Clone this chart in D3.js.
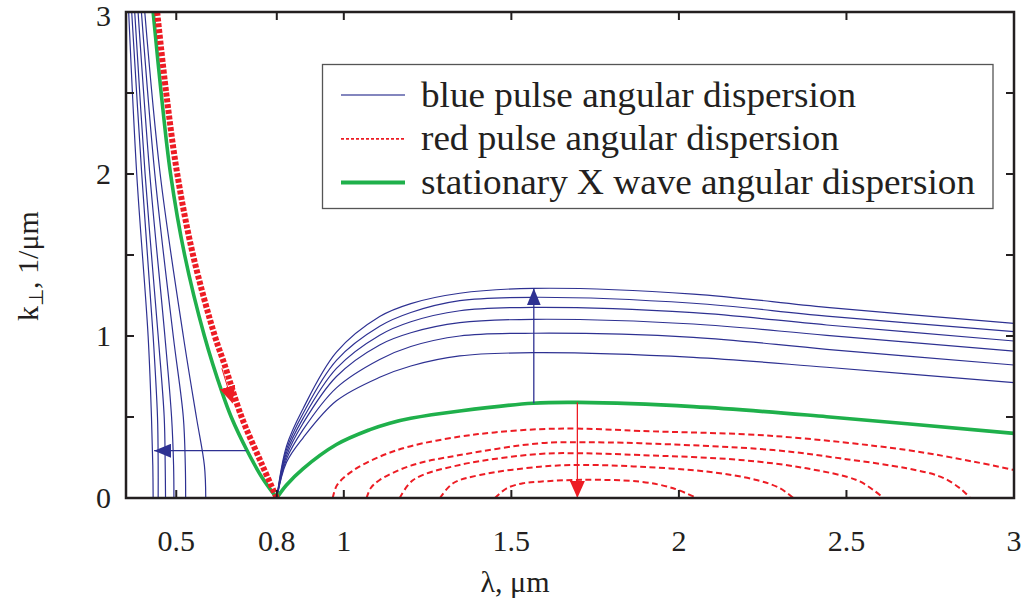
<!DOCTYPE html>
<html><head><meta charset="utf-8">
<script src="https://cdn.jsdelivr.net/npm/d3@7"></script>
<style>body{margin:0;background:#fff}svg{display:block}</style>
</head><body><svg id="c" width="1027" height="605"></svg>
<script>
// ---- data (λ in µm, k⊥ in 1/µm) ----
const xTickValues = [0.5, 0.8, 1, 1.5, 2, 2.5, 3];
const xTickLabels = ["0.5", "0.8", "1", "1.5", "2", "2.5", "3"];
const yTickValues = [0, 0.5, 1, 1.5, 2, 2.5, 3];
const yTickLabels = ["0", "", "1", "", "2", "", "3"];
const legendLabels = ["blue pulse angular dispersion", "red pulse angular dispersion", "stationary X wave angular dispersion"];

// blue pulse, short-wavelength branches
const blueLeft = [
  [[0.358,3],[0.382,2],[0.416,1],[0.426,0.5],[0.430,0.2],[0.431,0]],
  [[0.367,3],[0.397,2],[0.431,1],[0.444,0.5],[0.446,0.2],[0.446,0]],
  [[0.376,3],[0.407,2],[0.446,1],[0.464,0.5],[0.467,0.2],[0.468,0]],
  [[0.386,3],[0.421,2],[0.466,1],[0.486,0.5],[0.492,0.2],[0.493,0]],
  [[0.396,3],[0.436,2],[0.491,1],[0.521,0.5],[0.527,0.2],[0.528,0]],
  [[0.406,3],[0.452,2],[0.521,1],[0.560,0.5],[0.584,0.2],[0.588,0]]
];
// blue pulse, long-wavelength branches
const blueRightLambda = [0.8, 0.829, 0.878, 0.978, 1.107, 1.2, 1.346, 1.565, 2.043, 2.441, 3.0];
const blueRightK = [
  [0, 0.32, 0.55, 0.90, 1.12, 1.20, 1.264, 1.294, 1.259, 1.177, 1.078],
  [0, 0.30, 0.52, 0.85, 1.06, 1.145, 1.218, 1.239, 1.202, 1.123, 1.027],
  [0, 0.28, 0.49, 0.80, 1.005, 1.088, 1.156, 1.177, 1.144, 1.068, 0.969],
  [0, 0.26, 0.46, 0.75, 0.945, 1.02, 1.082, 1.103, 1.074, 1.004, 0.907],
  [0, 0.24, 0.42, 0.68, 0.855, 0.935, 1.000, 1.017, 0.992, 0.918, 0.821],
  [0, 0.22, 0.37, 0.60, 0.745, 0.815, 0.877, 0.897, 0.868, 0.807, 0.712]
];
// stationary X wave
const greenLeft = [[0.431,3],[0.455,2.5],[0.483,2],[0.525,1.5],[0.584,1],[0.637,0.65],[0.664,0.5],[0.712,0.29],[0.755,0.13],[0.8,0]];
const greenRight = [[0.8,0],[0.829,0.08],[0.878,0.18],[0.978,0.33],[1.078,0.422],[1.137,0.462],[1.2,0.492],[1.346,0.537],[1.565,0.585],[1.7,0.59],[2.043,0.564],[2.441,0.502],[3.0,0.399]];
// red pulse
const redLeft = [[0.443,3],[0.47,2.5],[0.503,2],[0.55,1.5],[0.615,1],[0.643,0.83],[0.695,0.5],[0.755,0.21],[0.8,0]];
const redRight = [
  [[0.967,0],[0.98,0.08],[1.028,0.17],[1.107,0.255],[1.2,0.32],[1.346,0.379],[1.45,0.405],[1.585,0.425],[1.71,0.428],[1.884,0.414],[2.282,0.383],[2.68,0.296],[2.88,0.224],[3.0,0.173]],
  [[1.068,0],[1.08,0.06],[1.107,0.111],[1.2,0.2],[1.346,0.265],[1.585,0.338],[1.71,0.344],[1.884,0.338],[2.282,0.296],[2.481,0.245],[2.68,0.183],[2.78,0.132],[2.839,0.06],[2.869,0]],
  [[1.167,0],[1.207,0.111],[1.346,0.204],[1.585,0.272],[1.71,0.276],[1.884,0.265],[2.182,0.235],[2.381,0.183],[2.53,0.111],[2.58,0.05],[2.61,0]],
  [[1.287,0],[1.326,0.091],[1.406,0.142],[1.585,0.193],[1.71,0.204],[1.884,0.193],[2.083,0.163],[2.232,0.111],[2.302,0.06],[2.341,0]],
  [[1.451,0],[1.486,0.06],[1.535,0.091],[1.585,0.101],[1.71,0.112],[1.884,0.101],[1.983,0.06],[2.053,0]]
];
// arrows [from, to]
const blueUpArrow = [[1.567,0.585],[1.567,1.294]];
const redDownArrow = [[1.697,0.59],[1.697,0.0]];
const blueLeftArrow = [[0.709,0.292],[0.434,0.292]];
const redLeftArrow = [[0.636,0.80],[0.668,0.585]];

// ---- drawing ----
const colBlue = "#2e3192", colRed = "#ed1c24", colGreen = "#1fb04b", colAxis = "#231f20";
const svg = d3.select("#c");
const x = d3.scaleLinear().domain([0.35, 3]).range([126, 1014]);
const y = d3.scaleLinear().domain([0, 3]).range([498, 12]);
const font = "'Liberation Serif','Times New Roman',serif";

const defs = svg.append("defs");
defs.append("clipPath").attr("id","clip").append("rect")
  .attr("x", x(0.35)).attr("y", y(3)).attr("width", x(3)-x(0.35)).attr("height", y(0)-y(3));
function marker(id, color, len, wid){
  defs.append("marker").attr("id", id).attr("markerUnits","userSpaceOnUse")
    .attr("viewBox", `0 ${-wid/2} ${len} ${wid}`).attr("refX", len).attr("refY", 0)
    .attr("markerWidth", len).attr("markerHeight", wid).attr("orient","auto")
    .append("path").attr("d", `M0,${-wid/2}L${len},0L0,${wid/2}Z`).attr("fill", color);
}
marker("ab", colBlue, 17, 14);
marker("ar", colRed, 17, 15);
marker("ar2", colRed, 17, 16);

const line = d3.line().x(d => x(d[0])).y(d => y(d[1])).curve(d3.curveCatmullRom.alpha(0.5));
const g = svg.append("g").attr("clip-path","url(#clip)");

// blue
g.selectAll(".bl").data(blueLeft).join("path").attr("d", line)
  .attr("fill","none").attr("stroke", colBlue).attr("stroke-width", 1.2);
const blueRight = blueRightK.map(ks => ks.map((k,i) => [blueRightLambda[i], k]));
g.selectAll(".br").data(blueRight).join("path").attr("d", line)
  .attr("fill","none").attr("stroke", colBlue).attr("stroke-width", 1.2);

// red right
g.selectAll(".rr").data(redRight).join("path").attr("d", line)
  .attr("fill","none").attr("stroke", colRed).attr("stroke-width", 2).attr("stroke-dasharray","6,3.5");

// green
[greenLeft, greenRight].forEach(d => g.append("path").attr("d", line(d))
  .attr("fill","none").attr("stroke", colGreen).attr("stroke-width", 3.6));

// red left (thick band)
g.append("path").attr("d", line(redLeft)).attr("fill","none")
  .attr("stroke", colRed).attr("stroke-width", 6).attr("stroke-dasharray","4,1.8");

// arrows
const straight = d3.line().x(d => x(d[0])).y(d => y(d[1]));
g.append("path").attr("d", straight(blueUpArrow)).attr("stroke", colBlue).attr("stroke-width",1.3).attr("marker-end","url(#ab)");
g.append("path").attr("d", straight(blueLeftArrow)).attr("stroke", colBlue).attr("stroke-width",1.3).attr("marker-end","url(#ab)");
g.append("path").attr("d", straight(redDownArrow)).attr("stroke", colRed).attr("stroke-width",1.3).attr("marker-end","url(#ar)");
g.append("path").attr("d", straight(redLeftArrow)).attr("stroke", colRed).attr("stroke-width",1).attr("marker-end","url(#ar2)");

// frame & ticks
const ax = svg.append("g");
ax.append("rect").attr("x", x(0.35)).attr("y", y(3)).attr("width", x(3)-x(0.35)).attr("height", y(0)-y(3))
  .attr("fill","none").attr("stroke", colAxis).attr("stroke-width", 2.5);
const tl = 8;
xTickValues.forEach(v => {
  ax.append("line").attr("x1",x(v)).attr("x2",x(v)).attr("y1",y(0)).attr("y2",y(0)-tl).attr("stroke",colAxis).attr("stroke-width",2);
  ax.append("line").attr("x1",x(v)).attr("x2",x(v)).attr("y1",y(3)).attr("y2",y(3)+tl).attr("stroke",colAxis).attr("stroke-width",2);
});
yTickValues.forEach(v => {
  ax.append("line").attr("x1",x(0.35)).attr("x2",x(0.35)+tl).attr("y1",y(v)).attr("y2",y(v)).attr("stroke",colAxis).attr("stroke-width",2);
  ax.append("line").attr("x1",x(3)).attr("x2",x(3)-tl).attr("y1",y(v)).attr("y2",y(v)).attr("stroke",colAxis).attr("stroke-width",2);
});
ax.selectAll(".xl").data(xTickValues).join("text")
  .attr("x", d => x(d)).attr("y", 551).attr("text-anchor","middle")
  .attr("font-family", font).attr("font-size", 30).attr("fill", colAxis)
  .text((d,i) => xTickLabels[i]);
ax.selectAll(".yl").data(yTickValues).join("text")
  .attr("x", 111).attr("y", d => Math.max(y(d), 16)).attr("dy","0.34em").attr("text-anchor","end")
  .attr("font-family", font).attr("font-size", 30).attr("fill", colAxis)
  .text((d,i) => yTickLabels[i]);

// axis titles
svg.append("text").attr("x", 515).attr("y", 592).attr("text-anchor","middle")
  .attr("font-family", font).attr("font-size", 30).attr("fill", colAxis).text("λ, μm");
const yt = svg.append("text").attr("transform","translate(38,266) rotate(-90)").attr("text-anchor","middle")
  .attr("font-family", font).attr("font-size", 30).attr("fill", colAxis);
yt.append("tspan").text("k");
yt.append("tspan").attr("font-size", 20).attr("dy", 5).text("⊥");
yt.append("tspan").attr("dy", -5).text(", 1/μm");

// legend
const lg = svg.append("g");
lg.append("rect").attr("x", 322.5).attr("y", 64.5).attr("width", 670.5).attr("height", 144)
  .attr("fill","#fff").attr("stroke","#555").attr("stroke-width", 1.3);
const legStyles = [
  {c: "#5a5ea8", w: 1.5, dash: null, tw: 435},
  {c: colRed, w: 1.8, dash: "3,2", tw: 418},
  {c: colGreen, w: 4, dash: null, tw: 554}
];
legendLabels.forEach((t,i) => {
  const yy = 95 + i*43.8;
  lg.append("line").attr("x1",341).attr("x2",405).attr("y1",yy).attr("y2",yy)
    .attr("stroke", legStyles[i].c).attr("stroke-width", legStyles[i].w)
    .attr("stroke-dasharray", legStyles[i].dash);
  lg.append("text").attr("x", 421).attr("y", yy).attr("dy","0.32em")
    .attr("font-family", font).attr("font-size", 36).attr("fill", colAxis)
    .attr("textLength", legStyles[i].tw).attr("lengthAdjust","spacingAndGlyphs").text(t);
});
</script>
</body></html>
